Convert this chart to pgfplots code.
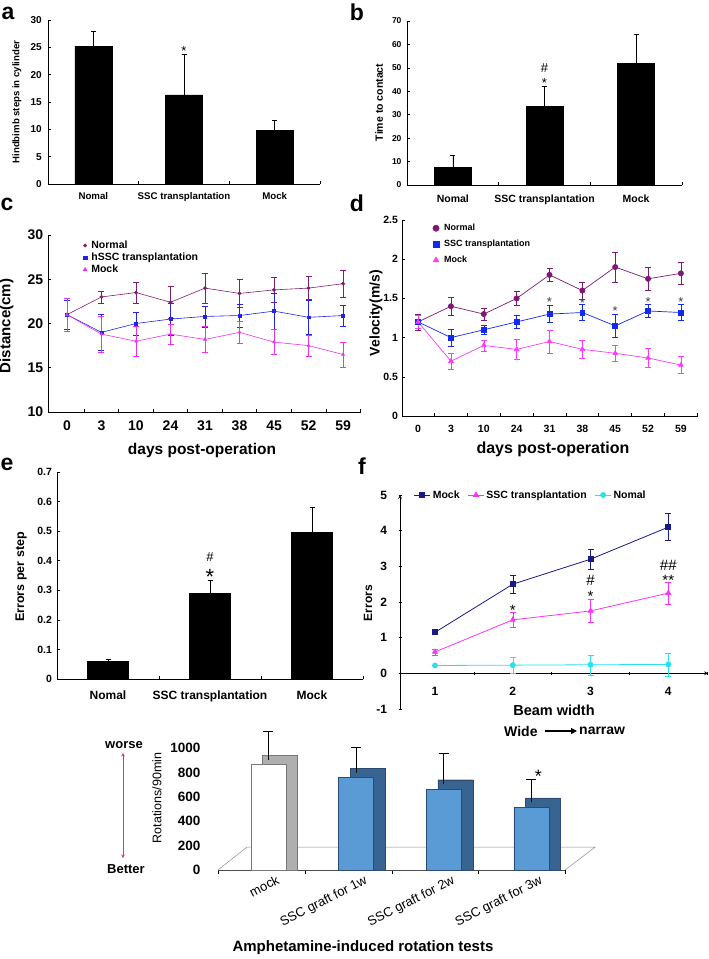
\documentclass[border=0pt]{standalone}
\usepackage{pgfplots}
\pgfplotsset{compat=1.18}
\usepackage{pgfplotstable}
\usetikzlibrary{arrows.meta}
\usepackage{fontspec}
\setmainfont{Liberation Sans}
\newcommand\fs[1]{\fontsize{#1}{#1}\selectfont}
\definecolor{cN}{RGB}{128,30,110}
\definecolor{cS}{RGB}{35,35,230}
\definecolor{cM}{RGB}{235,50,235}
\definecolor{dN}{RGB}{125,25,115}
\definecolor{dS}{RGB}{20,40,240}
\definecolor{dM}{RGB}{250,60,250}
\definecolor{fM}{RGB}{25,25,135}
\definecolor{fS}{RGB}{250,50,250}
\definecolor{fN}{RGB}{40,225,240}
\definecolor{gFront}{RGB}{91,155,213}
\definecolor{gBack}{RGB}{55,100,145}
\definecolor{gEdge}{RGB}{45,75,110}
\definecolor{mBack}{RGB}{175,175,175}
\definecolor{mEdge}{RGB}{120,120,120}
\definecolor{arrowred}{RGB}{225,60,90}

\pgfplotsset{
  base/.style={scale only axis, anchor=south west, clip=false,
    axis lines=left, axis line style={-, line width=0.7pt},
    every outer x axis line/.append style={-}, every outer y axis line/.append style={-},
    every inner x axis line/.append style={-}, every inner y axis line/.append style={-},
    tick style={line width=0.6pt, black}, major tick length=3pt, tick align=inside,
    /pgf/number format/assume math mode=true,
    /pgf/number format/1000 sep={},
  },
  ebar/.style={error bars/.cd, y dir=plus, y explicit,
    error bar style={line width=0.6pt, black},
    error mark options={rotate=90, mark size=2.5pt, line width=0.6pt, black}},
  ebboth/.style={error bars/.cd, y dir=both, y explicit,
    error bar style={line width=0.5pt},
    error mark options={rotate=90, mark size=#1, line width=0.5pt}},
}

\pgfplotstableread{
x v top
0 866 1139
}\mocktab
\pgfplotstableread{
x v top
1 760 1002
2 664 953
3 516 743
}\grafttab

\begin{document}
\begin{tikzpicture}
\path[use as bounding box] (0,0) rectangle (709pt,-959pt);

% ---------- panel a ----------
\begin{axis}[base, at={(48pt,-184pt)}, width=272pt, height=164pt,
  xmin=-0.5, xmax=2.5, ymin=0, ymax=30, ytick={0,5,...,30},
  xtick={0.5,1.5,2.5}, xticklabels={},
  extra x ticks={0,1,2}, extra x tick labels={Nomal,SSC transplantation,Mock},
  extra x tick style={major tick length=0pt},
  yticklabel style={font={\bfseries\fs{10}}, xshift=-2.7pt},
  xticklabel style={font={\bfseries\fs{9.7}}, yshift=-5pt}]
\addplot[ybar, bar width=37pt, fill=black, draw=black, ebar]
  coordinates {(0,25.2) +- (0,2.8) (1,16.3) +- (0,7.4) (2,9.8) +- (0,1.9)};
\node[font=\fs{13}, yshift=-2.8pt] at (axis cs:1,24.9) {*};
\end{axis}
\node[font={\bfseries\fs{9.6}}, rotate=90] at (17pt,-102pt) {Hindbimb steps in cylinder};
\node[font={\bfseries\fs{23}}] at (8pt,-13pt) {a};

% ---------- panel b ----------
\begin{axis}[base, at={(407pt,-185pt)}, width=275pt, height=164pt,
  xmin=-0.5, xmax=2.5, ymin=0, ymax=70, ytick={0,10,...,70},
  xtick={0.5,1.5,2.5}, xticklabels={},
  extra x ticks={0,1,2}, extra x tick labels={Nomal,SSC transplantation,Mock},
  extra x tick style={major tick length=0pt},
  yticklabel style={font={\bfseries\fs{8.5}}, xshift=-2pt},
  xticklabel style={font={\bfseries\fs{10.5}}, yshift=-6.7pt}]
\addplot[ybar, bar width=37pt, fill=black, draw=black, ebar]
  coordinates {(0,7.5) +- (0,5) (1,33.5) +- (0,8.5) (2,52) +- (0,12.5)};
\node[font=\fs{13}] at (axis cs:1,50) {\#};
\node[font=\fs{13}, yshift=-2.8pt] at (axis cs:1,44.8) {*};
\end{axis}
\node[font={\bfseries\fs{10.5}}, rotate=90] at (379pt,-102.5pt) {Time to contact};
\node[font={\bfseries\fs{23}}] at (357pt,-12pt) {b};

% ---------- panel c ----------
\begin{axis}[base, at={(48pt,-412pt)}, width=313pt, height=177pt,
  xmin=-0.55, xmax=8.52, ymin=10, ymax=30, ytick={10,15,...,30},
  xtick={0.5,1.5,...,8.5}, xticklabels={},
  extra x ticks={0,1,...,8}, extra x tick labels={0,3,10,24,31,38,45,52,59},
  extra x tick style={major tick length=0pt},
  yticklabel style={font={\bfseries\fs{14}}, xshift=-1.3pt},
  xticklabel style={font={\bfseries\fs{14}}, yshift=-5.3pt},
  legend style={at={(0.095,0.99)}, anchor=north west, draw=none, fill=none,
    font={\bfseries\fs{10.5}}, row sep=-1pt},
  legend cell align=left,
  legend image code/.code={\path (-2pt,0pt) (6pt,0pt); \draw[#1] plot coordinates {(2pt,0pt)};}]
\addplot[forget plot, color=cN, line width=0.6pt, mark=*, mark size=1.6pt, ebboth=3pt]
  coordinates {(0,21) +- (0,1.6) (1,23.0) +- (0,0.7) (2,23.5) +- (0,1.2) (3,22.4) +- (0,1.8)
  (4,24.0) +- (0,1.7) (5,23.4) +- (0,1.6) (6,23.8) +- (0,1.4) (7,24.0) +- (0,1.3) (8,24.5) +- (0,1.5)};
\addplot[forget plot, color=cS, line width=0.6pt, mark=square*, mark size=1.4pt, ebboth=3pt]
  coordinates {(0,21) +- (0,1.6) (1,19.0) +- (0,2.0) (2,20.0) +- (0,1.3) (3,20.5) +- (0,1.8)
  (4,20.8) +- (0,1.2) (5,20.9) +- (0,1.3) (6,21.4) +- (0,2.0) (7,20.7) +- (0,1.9) (8,20.9) +- (0,1.2)};
\addplot[forget plot, color=cM, line width=0.6pt, mark=triangle*, mark size=1.6pt, ebboth=3pt]
  coordinates {(0,21) +- (0,1.9) (1,18.8) +- (0,2.0) (2,18.0) +- (0,1.7) (3,18.8) +- (0,1.1)
  (4,18.2) +- (0,1.5) (5,19.0) +- (0,1.2) (6,17.9) +- (0,1.4) (7,17.5) +- (0,1.2) (8,16.5) +- (0,1.4)};
\addlegendimage{only marks, color=cN, mark=*, mark size=1.8pt}
\addlegendentry{Normal}
\addlegendimage{only marks, color=cS, mark=square*, mark size=1.6pt}
\addlegendentry{hSSC transplantation}
\addlegendimage{only marks, color=cM, mark=triangle*, mark size=2.4pt}
\addlegendentry{Mock}
\end{axis}
\node[font={\bfseries\fs{15}}, rotate=90] at (6.5pt,-326pt) {Distance(cm)};
\node[font={\bfseries\fs{15.5}}] at (202pt,-450pt) {days post-operation};
\node[font={\bfseries\fs{23}}] at (7pt,-204pt) {c};

% ---------- panel d ----------
\begin{axis}[base, at={(402pt,-416pt)}, width=296pt, height=196pt,
  xmin=-0.49, xmax=8.52, ymin=0, ymax=2.5, ytick={0,0.5,...,2.5},
  xtick={0.5,1.5,...,8.5}, xticklabels={},
  extra x ticks={0,1,...,8}, extra x tick labels={0,3,10,24,31,38,45,52,59},
  extra x tick style={major tick length=0pt},
  yticklabel style={font={\bfseries\fs{10.5}}, xshift=-0.5pt},
  xticklabel style={font={\bfseries\fs{10.5}}, yshift=-5.7pt},
  legend style={at={(0.09,1.0)}, anchor=north west, draw=none, fill=none,
    font={\bfseries\fs{9}}, row sep=4pt},
  legend cell align=left,
  legend image code/.code={\path (-2pt,0pt) (8pt,0pt); \draw[#1] plot coordinates {(2pt,0pt)};}]
\addplot[forget plot, color=dN, line width=0.7pt, mark=*, mark size=2.6pt, ebboth=3pt]
  coordinates {(0,1.2) +- (0,0.1) (1,1.4) +- (0,0.12) (2,1.3) +- (0,0.08) (3,1.5) +- (0,0.09)
  (4,1.8) +- (0,0.08) (5,1.6) +- (0,0.11) (6,1.9) +- (0,0.19) (7,1.75) +- (0,0.15) (8,1.82) +- (0,0.14)};
\addplot[forget plot, color=dS, line width=0.7pt, mark=square*, mark size=2.4pt, ebboth=3pt]
  coordinates {(0,1.2) +- (0,0.08) (1,1.0) +- (0,0.11) (2,1.1) +- (0,0.06) (3,1.2) +- (0,0.08)
  (4,1.3) +- (0,0.11) (5,1.32) +- (0,0.1) (6,1.15) +- (0,0.15) (7,1.34) +- (0,0.08) (8,1.32) +- (0,0.1)};
\addplot[forget plot, color=dM, line width=0.7pt, mark=triangle*, mark size=2.6pt, ebboth=3pt]
  coordinates {(0,1.2) +- (0,0.08) (1,0.7) +- (0,0.1) (2,0.9) +- (0,0.07) (3,0.85) +- (0,0.13)
  (4,0.95) +- (0,0.15) (5,0.85) +- (0,0.11) (6,0.8) +- (0,0.1) (7,0.74) +- (0,0.12) (8,0.65) +- (0,0.11)};
\addlegendimage{only marks, color=dN, mark=*, mark size=3.2pt}
\addlegendentry{Normal}
\addlegendimage{only marks, color=dS, mark=square*, mark size=2.8pt}
\addlegendentry{SSC transplantation}
\addlegendimage{only marks, color=dM, mark=triangle*, mark size=3.4pt}
\addlegendentry{Mock}
\foreach \xx/\yy in {4/1.49,5/1.48,6/1.37,7/1.49,8/1.49}{
  \edef\tmp{\noexpand\node[font=\noexpand\fs{13}, text=black!75, yshift=-2.8pt] at (axis cs:\xx,\yy) {*};}\tmp}
\end{axis}
\node[font={\bfseries\fs{14}}, rotate=90] at (376pt,-313pt) {Velocity(m/s)};
\node[font={\bfseries\fs{16}}] at (553pt,-449pt) {days post-operation};
\node[font={\bfseries\fs{23}}] at (357pt,-203pt) {d};

% ---------- panel e ----------
\begin{axis}[base, at={(57pt,-679pt)}, width=306pt, height=207pt,
  xmin=-0.5, xmax=2.5, ymin=0, ymax=0.7, ytick={0,0.1,...,0.7},
  xtick={0.5,1.5,2.5}, xticklabels={},
  extra x ticks={0,1,2}, extra x tick labels={Nomal,SSC transplantation,Mock},
  extra x tick style={major tick length=0pt},
  yticklabel style={font={\bfseries\fs{10.5}}, xshift=-1.5pt},
  xticklabel style={font={\bfseries\fs{12}}, yshift=-8.7pt}]
\addplot[ybar, bar width=41pt, fill=black, draw=black, ebar]
  coordinates {(0,0.06) +- (0,0.005) (1,0.29) +- (0,0.045) (2,0.495) +- (0,0.085)};
\node[font=\fs{13}] at (axis cs:1,0.413) {\#};
\node[font=\fs{22}, yshift=-4.8pt] at (axis cs:1,0.362) {*};
\end{axis}
\node[font={\bfseries\fs{12.5}}, rotate=90] at (21pt,-577pt) {Errors per step};
\node[font={\bfseries\fs{23}}] at (7pt,-464pt) {e};

% ---------- panel f ----------
\begin{axis}[base, at={(400pt,-709pt)}, width=308pt, height=214pt,
  xmin=0.55, xmax=4.51, ymin=-1, ymax=5, ytick={-1,0,...,5},
  axis x line=middle, axis y line=left,
  xtick={1.5,2.5,3.5,4.5}, xticklabels={},
  extra x ticks={1,2,3,4}, extra x tick labels={1,2,3,4},
  extra x tick style={major tick length=0pt},
  yticklabel style={font={\bfseries\fs{12}}, xshift=-8pt},
  xticklabel style={font={\bfseries\fs{12}}, yshift=-10pt},
  legend style={at={(0.035,1)}, anchor=west, draw=none, fill=none,
    font={\bfseries\fs{10.5}}, /tikz/every even column/.append style={column sep=6pt}},
  legend columns=3,
  legend image code/.code={\draw[#1, mark repeat=2, mark phase=2] plot coordinates {(0pt,0pt) (8pt,0pt) (16pt,0pt)};}]
\addplot[color=fM, line width=0.8pt, mark=square*, mark size=2.5pt, ebboth=3pt]
  coordinates {(1,1.15) +- (0,0.05) (2,2.5) +- (0,0.25) (3,3.2) +- (0,0.28) (4,4.1) +- (0,0.38)};
\addlegendentry{Mock}
\addplot[color=fS, line width=0.8pt, mark=triangle*, mark size=2.8pt, ebboth=3pt]
  coordinates {(1,0.6) +- (0,0.08) (2,1.5) +- (0,0.2) (3,1.75) +- (0,0.33) (4,2.25) +- (0,0.3)};
\addlegendentry{SSC transplantation}
\addplot[color=fN, line width=0.8pt, mark=*, mark size=2.5pt, ebboth=3pt]
  coordinates {(1,0.22) +- (0,0.0) (2,0.23) +- (0,0.23) (3,0.24) +- (0,0.28) (4,0.25) +- (0,0.32)};
\addlegendentry{Nomal}
\node[font=\fs{15}, yshift=-3.2pt] at (axis cs:2,1.86) {*};
\node[font=\fs{15}] at (axis cs:3,2.6) {\#};
\node[font=\fs{15}, yshift=-3.2pt] at (axis cs:3,2.25) {*};
\node[font=\fs{15}] at (axis cs:4,3.03) {\#\#};
\node[font=\fs{15}, yshift=-3.2pt] at (axis cs:4,2.7) {**};
\end{axis}
\node[font={\bfseries\fs{12}}, rotate=90] at (368pt,-603pt) {Errors};
\node[font={\bfseries\fs{14.5}}] at (554pt,-710pt) {Beam width};
\node[font={\bfseries\fs{23}}] at (362pt,-466pt) {f};
\node[font={\bfseries\fs{14}}, anchor=west, inner sep=0pt] at (504pt,-731pt) {Wide};
\draw[line width=1.2pt, -{Triangle[length=6pt,width=6pt]}] (545pt,-731pt) -- (577pt,-731pt);
\node[font={\bfseries\fs{14}}, anchor=west, inner sep=0pt] at (579pt,-731pt) {narraw};

% ---------- panel g ----------
\begin{axis}[base, at={(218pt,-870pt)}, width=347pt, height=122pt,
  xmin=-0.576, xmax=3.385, ymin=0, ymax=1000, ytick={0,200,...,1000},
  y axis line style={draw=none}, ytick style={draw=none},
  x axis line style={black!70, line width=0.6pt},
  tick align=outside, major tick length=4pt,
  xtick={-0.576,0.417,1.41,2.40,3.385}, xticklabels={},
  extra x ticks={0,1,2,3},
  extra x tick labels={mock,SSC graft for 1w,SSC graft for 2w,SSC graft for 3w},
  extra x tick style={major tick length=0pt},
  xticklabel style={font=\fs{13}, rotate=27, anchor=north east, xshift=8pt, yshift=-4pt},
  yticklabel style={font={\bfseries\fs{13.5}}, xshift=-10pt}]
\addplot[draw=black!45, line width=0.5pt] coordinates {(-0.576,0) (-0.245,188) (3.73,188) (3.385,0)};
\addplot[ybar, bar width=35pt, bar shift=11.7pt, fill=mBack, draw=mEdge, line width=0.4pt]
  table[x=x, y expr=\thisrow{v}+76] {\mocktab};
\addplot[ybar, bar width=35pt, bar shift=0pt, fill=white, draw=mEdge, line width=0.4pt]
  table[x=x, y=v] {\mocktab};
\addplot[ybar, bar width=35pt, bar shift=11.7pt, fill=gBack, draw=gEdge, line width=0.4pt]
  table[x=x, y expr=\thisrow{v}+76] {\grafttab};
\addplot[ybar, bar width=35pt, bar shift=0pt, fill=gFront, draw=gEdge, line width=0.4pt]
  table[x=x, y=v] {\grafttab};
\addplot[ybar, bar width=35pt, bar shift=5.8pt, draw=none, fill=none,
  error bars/.cd, y dir=plus, y explicit, error bar style={draw=black, line width=0.6pt},
  error mark options={rotate=90, mark size=5pt, line width=0.6pt, draw=black}]
  table[x=x, y expr=\thisrow{v}+38, y error expr=\thisrow{top}-\thisrow{v}-38] {\mocktab};
\addplot[ybar, bar width=35pt, bar shift=5.8pt, draw=none, fill=none,
  error bars/.cd, y dir=plus, y explicit, error bar style={draw=black, line width=0.6pt},
  error mark options={rotate=90, mark size=5pt, line width=0.6pt, draw=black}]
  table[x=x, y expr=\thisrow{v}+38, y error expr=\thisrow{top}-\thisrow{v}-38] {\grafttab};
\node[font=\fs{18}, yshift=-4pt] at (axis cs:3.08,803) {*};
\end{axis}
\node[font=\fs{12.5}, rotate=90] at (157pt,-798pt) {Rotations/90min};
\node[font={\bfseries\fs{15}}] at (363pt,-948pt) {Amphetamine-induced rotation tests};
\node[font={\bfseries\fs{13}}] at (124pt,-745pt) {worse};
\node[font={\bfseries\fs{13}}] at (126pt,-869pt) {Better};
\draw[arrowred, line width=0.8pt, {Stealth[length=3.5pt,width=3.5pt]}-{Stealth[length=3.5pt,width=3.5pt]}] (123pt,-753pt) -- (123pt,-858pt);
\end{tikzpicture}
\end{document}
